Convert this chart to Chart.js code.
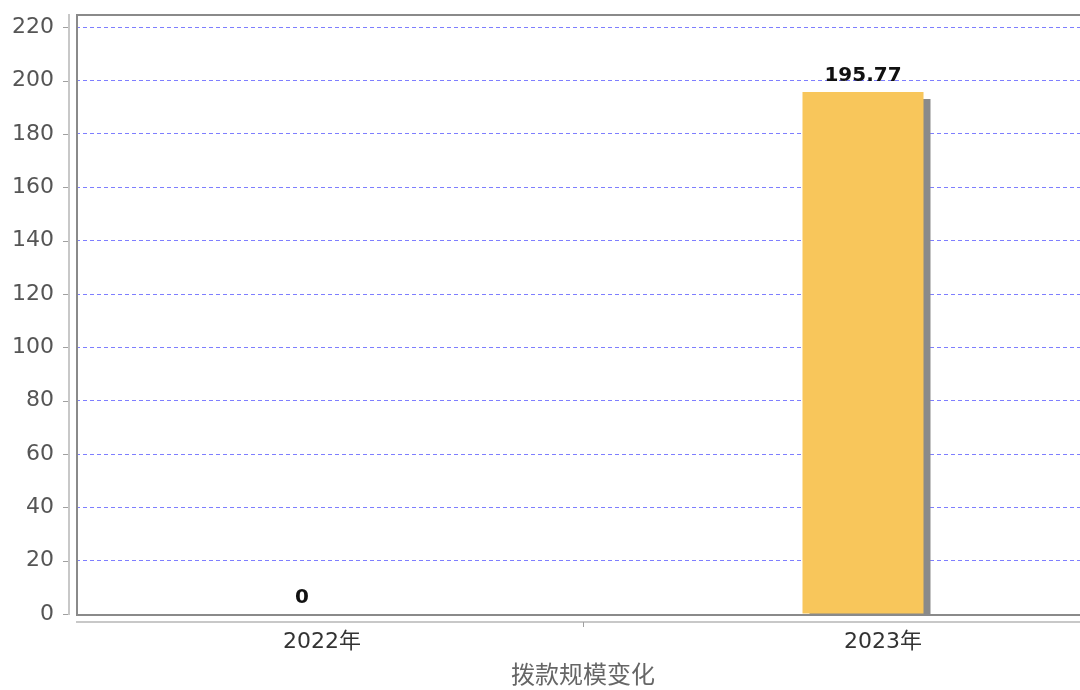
<!DOCTYPE html>
<html>
<head>
<meta charset="utf-8">
<script src="https://cdn.jsdelivr.net/npm/chart.js@4/dist/chart.umd.min.js"></script>
<style>
html,body{margin:0;padding:0;background:#fff;overflow:hidden;width:1080px;height:690px;}
canvas{display:block;}
</style>
</head>
<body>
<canvas id="c" width="1090" height="690" style="width:1090px;height:690px"></canvas>
<script>
const categories = ['2022年', '2023年'];
const values = [0, 195.77];
const valueLabels = ['0', '195.77'];
const axisTitle = '拨款规模变化';

const FONT = '"DejaVu Sans", "Noto Sans CJK SC", sans-serif';

const decor = {
  id: 'decor',
  beforeDatasetsDraw(chart) {
    const ctx = chart.ctx;
    ctx.save();
    ctx.shadowColor = '#8a8a8a';
    ctx.shadowOffsetX = 7;
    ctx.shadowOffsetY = 7;
    ctx.shadowBlur = 0;
  },
  afterDatasetsDraw(chart) {
    const ctx = chart.ctx;
    ctx.restore();
    const meta = chart.getDatasetMeta(0);
    ctx.save();
    ctx.font = 'bold 20px ' + FONT;
    ctx.fillStyle = '#111';
    ctx.textAlign = 'center';
    ctx.textBaseline = 'alphabetic';
    meta.data.forEach((el, i) => {
      ctx.fillText(valueLabels[i], el.x, el.y - 11);
    });
    ctx.restore();
  },
  afterDraw(chart) {
    const ctx = chart.ctx;
    const a = chart.chartArea;
    const ys = chart.scales.y;
    const xs = chart.scales.x;
    ctx.save();
    // plot frame
    ctx.strokeStyle = '#8a8a8a';
    ctx.lineWidth = 2;
    ctx.strokeRect(a.left + 1, a.top + 1, a.right - a.left + 10, a.bottom - a.top);
    // offset y axis line
    ctx.strokeStyle = '#c8c8c8';
    ctx.lineWidth = 2;
    ctx.beginPath();
    ctx.moveTo(a.left - 7, a.top);
    ctx.lineTo(a.left - 7, a.bottom + 1);
    ctx.stroke();
    // y tick marks
    ctx.strokeStyle = '#a0a0a0';
    ctx.lineWidth = 1;
    ys.ticks.forEach(t => {
      const y = Math.round(ys.getPixelForValue(t.value)) + 0.5;
      ctx.beginPath();
      ctx.moveTo(a.left - 13, y);
      ctx.lineTo(a.left - 8, y);
      ctx.stroke();
    });
    // offset x axis line
    ctx.strokeStyle = '#c8c8c8';
    ctx.lineWidth = 2;
    ctx.beginPath();
    ctx.moveTo(a.left, a.bottom + 8);
    ctx.lineTo(a.right, a.bottom + 8);
    ctx.stroke();
    // x category divider tick
    const mx = Math.round(xs.getPixelForValue(0.5)) + 0.5;
    ctx.strokeStyle = '#a0a0a0';
    ctx.lineWidth = 1;
    ctx.beginPath();
    ctx.moveTo(mx, a.bottom + 8);
    ctx.lineTo(mx, a.bottom + 13);
    ctx.stroke();
    ctx.restore();
  }
};

new Chart(document.getElementById('c'), {
  type: 'bar',
  data: {
    datasets: [{
      data: categories.map((c, i) => ({ x: i, y: values[i] })),
      backgroundColor: '#F8C65B',
      borderWidth: 0,
      barPercentage: 0.2157,
      categoryPercentage: 1
    }]
  },
  options: {
    responsive: false,
    animation: false,
    layout: { padding: { top: 14, left: 0, right: 0, bottom: 0 } },
    plugins: { legend: { display: false }, tooltip: { enabled: false } },
    scales: {
      x: {
        type: 'linear',
        offset: false,
        min: -0.40285,
        max: 1.40463,
        afterBuildTicks: s => { s.ticks = categories.map((c, i) => ({ value: i })); },
        afterFit: s => { s.height = 76; s.paddingLeft = 0; s.paddingRight = 0; },
        grid: { display: false, drawTicks: false },
        border: { display: false },
        ticks: {
          callback: v => categories[v],
          font: { family: FONT, size: 22 },
          color: '#333',
          padding: 15,
          labelOffset: 20,
          maxRotation: 0,
          autoSkip: false
        },
        title: {
          display: true,
          text: axisTitle,
          font: { family: FONT, size: 24, lineHeight: 1.1 },
          color: '#666',
          padding: { top: 0, bottom: 0 }
        }
      },
      y: {
        min: 0,
        max: 225,
        afterFit: s => { s.width = 76; s.paddingTop = 0; s.paddingBottom = 0; },
        grid: {
          drawTicks: false,
          color: '#7e7eff',
          lineWidth: 1
        },
        border: { display: false, dash: [4, 3] },
        ticks: {
          stepSize: 20,
          includeBounds: false,
          font: { family: FONT, size: 22 },
          color: '#555',
          padding: 22
        }
      }
    }
  },
  plugins: [decor]
});
</script>
</body>
</html>
